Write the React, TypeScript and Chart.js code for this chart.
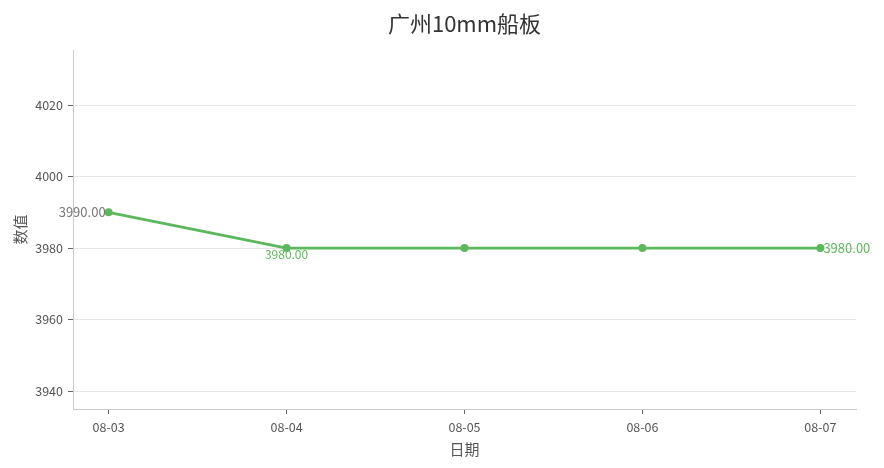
import { useEffect, useRef } from "react"
import { Chart, registerables } from "chart.js"

Chart.register(...registerables)

const dates = ["08-03", "08-04", "08-05", "08-06", "08-07"]
const prices = [3990, 3980, 3980, 3980, 3980]
const yTicks = [3940, 3960, 3980, 4000, 4020]
const chartTitle = "广州10mm船板"
const xTitle = "日期"
const yTitle = "数值"

const FONT = "'Noto Sans CJK SC', 'Noto Sans', sans-serif"
const GREEN = "#5cb85c"

const textPlugin = {
    id: "texts",
    afterDraw(chart: any) {
        const { ctx, chartArea } = chart
        const xs = chart.scales.x
        const ys = chart.scales.y
        const cx = (chartArea.left + chartArea.right) / 2
        ctx.save()
        ctx.textBaseline = "middle"
        ctx.textAlign = "center"
        ctx.fillStyle = "#333"
        ctx.font = `22px ${FONT}`
        ctx.fillText(chartTitle, cx, 24)
        ctx.fillStyle = "#555"
        ctx.font = `15px ${FONT}`
        ctx.fillText(xTitle, cx, 449)
        ctx.save()
        ctx.translate(20, (chartArea.top + chartArea.bottom) / 2)
        ctx.rotate(-Math.PI / 2)
        ctx.fillText(yTitle, 0, 0)
        ctx.restore()

        // value labels: first, second and last point
        const px = (i: number) => xs.getPixelForValue(i)
        const py = (i: number) => ys.getPixelForValue(prices[i])
        ctx.font = `13px ${FONT}`
        ctx.fillStyle = "#777"
        ctx.textAlign = "right"
        ctx.fillText(prices[0].toFixed(2), px(0) - 3, py(0))
        ctx.fillStyle = GREEN
        ctx.textAlign = "center"
        ctx.font = `12px ${FONT}`
        ctx.fillText(prices[1].toFixed(2), px(1), py(1) + 6)
        ctx.font = `13px ${FONT}`
        ctx.textAlign = "left"
        const last = prices.length - 1
        ctx.fillText(prices[last].toFixed(2), px(last) + 3, py(last))
        ctx.restore()
    }
}

export default function App() {
    const canvasRef = useRef<HTMLCanvasElement>(null)

    useEffect(() => {
        document.body.style.margin = "0"
        let chart: Chart | null = null
        if (canvasRef.current) {
            chart = new Chart(canvasRef.current, {
                type: "line",
                data: {
                    datasets: [
                        {
                            label: chartTitle,
                            data: prices.map((v, i) => ({ x: i, y: v })),
                            borderColor: GREEN,
                            backgroundColor: GREEN,
                            borderWidth: 2.8,
                            pointRadius: 4,
                            pointBorderWidth: 0,
                            pointBackgroundColor: GREEN,
                            tension: 0
                        }
                    ]
                },
                options: {
                    animation: false,
                    responsive: false,
                    layout: { padding: { top: 50, right: 28, left: 0, bottom: 0 } },
                    plugins: {
                        legend: { display: false },
                        title: { display: false },
                        tooltip: { enabled: false }
                    },
                    scales: {
                        x: {
                            type: "linear",
                            min: -0.2,
                            max: dates.length - 1 + 0.2,
                            afterBuildTicks: (s: any) => {
                                s.ticks = dates.map((_, i) => ({ value: i }))
                            },
                            afterFit: (s: any) => {
                                s.height = 59
                            },
                            ticks: {
                                callback: (v: any) => dates[v] ?? "",
                                color: "#555",
                                font: { family: FONT, size: 12.5 },
                                padding: 6,
                                maxRotation: 0
                            },
                            grid: {
                                drawOnChartArea: false,
                                drawTicks: true,
                                tickLength: 5,
                                tickColor: "#666"
                            },
                            border: { color: "#ccc", width: 1 }
                        },
                        y: {
                            min: 3935,
                            max: 4035.4,
                            afterBuildTicks: (s: any) => {
                                s.ticks = yTicks.map((v) => ({ value: v }))
                            },
                            afterFit: (s: any) => {
                                s.width = 73
                            },
                            ticks: {
                                color: "#555",
                                font: { family: FONT, size: 12.5 },
                                padding: 5,
                                callback: (v: any) => String(v)
                            },
                            grid: {
                                color: "#e6e6e6",
                                tickColor: "#666",
                                tickLength: 5
                            },
                            border: { color: "#ccc", width: 1 }
                        }
                    }
                },
                plugins: [textPlugin]
            })
        }
        return () => {
            if (chart) chart.destroy()
        }
    }, [])

    return <canvas ref={canvasRef} width={884} height={468} style={{ display: "block" }}></canvas>
}
